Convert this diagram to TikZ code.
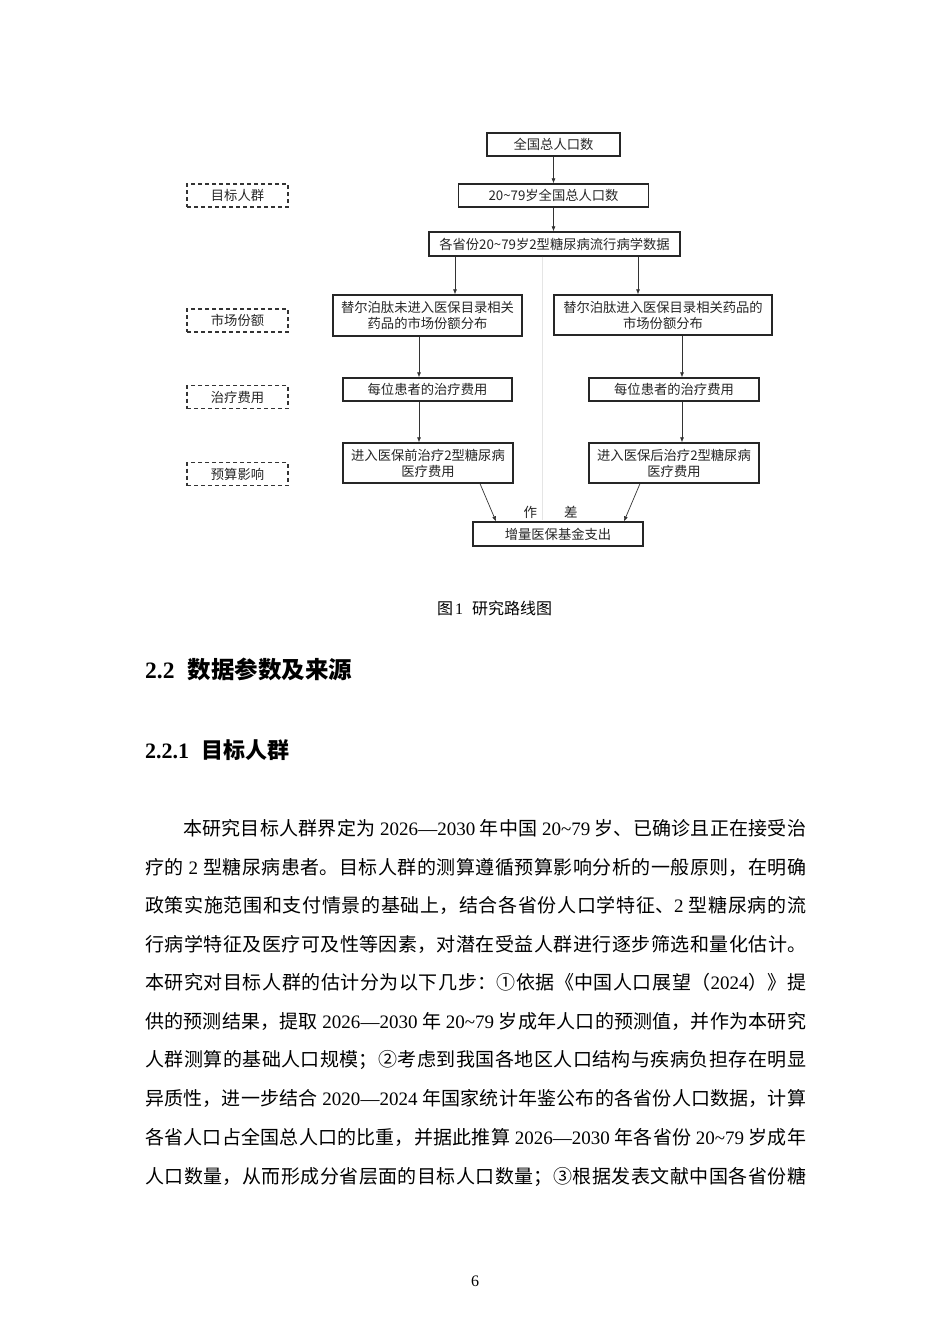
\documentclass[tikz,border=0pt]{standalone}
\usepackage{fontspec}
\setmainfont{Liberation Serif}
\newfontfamily\cjk{Noto Sans CJK SC}
\usetikzlibrary{arrows.meta, positioning}
\XeTeXlinebreaklocale "zh"
\XeTeXlinebreakskip=0pt plus 1.5pt minus 0.4pt
\newcommand{\lat}[1]{{\rmfamily #1}}
\newcommand{\tildech}{\textasciitilde}

\begin{document}
\begin{tikzpicture}[x=1pt, y=-1pt,
	flowbox/.style={rectangle, draw=black!85, line width=1.3pt, inner sep=0pt, align=center, text=black!85, font=\cjk\fontsize{13.3}{16}\selectfont},
	tagbox/.style={rectangle, draw=black!80, line width=1.2pt, dash pattern=on 4pt off 3pt, inner sep=0pt, minimum width=101pt, minimum height=23pt, text=black!85, font=\cjk\fontsize{13.3}{16}\selectfont},
	arr/.style={line width=0.7pt, draw=black!80, -{Latex[length=5pt, width=4pt]}},
	gline/.style={line width=0.8pt, draw=black!10},
	bodyline/.style={anchor=base west, inner sep=0pt, text width=661pt, align=justify, font=\cjk\fontsize{19}{38}\selectfont, execute at begin node={\parindent=0pt\parfillskip=0pt\relax}}
	]
	\path[fill=white] (0,0) rectangle (950,1344);
	\useasboundingbox (0,0) rectangle (950,1344);
	%\draw[gray,step=50] (0,0) grid (950,1344);

	% flow chart
	\node[flowbox, minimum width=133pt, minimum height=23pt] (B1) at (553.5,144.5) {全国总人口数};
	\node[flowbox, minimum width=190pt, minimum height=23pt] (B2) at (553.5,195.5) {20\tildech 79岁全国总人口数};
	\node[flowbox, minimum width=251pt, minimum height=24pt] (B3) at (554.5,244) {各省份20\tildech 79岁2型糖尿病流行病学数据};
	\node[flowbox, minimum width=189pt, minimum height=41pt] (Lm) at (427.5,315.5) {替尔泊肽未进入医保目录相关\\药品的市场份额分布};
	\node[flowbox, minimum width=218pt, minimum height=40pt] (Rm) at (663,315) {替尔泊肽进入医保目录相关药品的\\市场份额分布};
	\node[flowbox, minimum width=169pt, minimum height=23pt] (Lc) at (427.5,389.5) {每位患者的治疗费用};
	\node[flowbox, minimum width=170pt, minimum height=23pt] (Rc) at (674,389.5) {每位患者的治疗费用};
	\node[flowbox, minimum width=170pt, minimum height=40pt] (Lt) at (428,463) {进入医保前治疗2型糖尿病\\医疗费用};
	\node[flowbox, minimum width=170pt, minimum height=40pt] (Rt) at (674,463) {进入医保后治疗2型糖尿病\\医疗费用};
	\node[flowbox, minimum width=170pt, minimum height=24pt] (Bt) at (558,534) {增量医保基金支出};
	\node[text=black!85, font=\cjk\fontsize{13.5}{16}\selectfont, inner sep=0pt] (diff) at (550.5,512) {作\hspace{27pt}差};

	% stage tags
	\node[tagbox] (T1) at (237.5,195.5) {目标人群};
	\node[tagbox] (T2) at (237.5,320.5) {市场份额};
	\node[tagbox] (T3) at (237.5,397) {治疗费用};
	\node[tagbox] (T4) at (237.5,474) {预算影响};

	\coordinate (xl) at (455,0);
	\coordinate (xr) at (638,0);
	\coordinate (xlc) at (419,0);
	\coordinate (xrc) at (682,0);
	\coordinate (gx) at (542,0);

	\draw[gline] (B3.south -| gx) -- ++(0,263);
	\draw[arr] (B1) -- (B2);
	\draw[arr] (B2.south) -- (B2.south |- B3.north);
	\draw[arr] (B3.south -| xl) -- (Lm.north -| xl);
	\draw[arr] (B3.south -| xr) -- (Rm.north -| xr);
	\draw[arr] (Lm.south -| xlc) -- (Lc.north -| xlc);
	\draw[arr] (Lc.south -| xlc) -- (Lt.north -| xlc);
	\draw[arr] (Rm.south -| xrc) -- (Rc.north -| xrc);
	\draw[arr] (Rc.south -| xrc) -- (Rt.north -| xrc);
	\draw[arr] ([xshift=52pt]Lt.south) -- ([xshift=-62pt]Bt.north);
	\draw[arr] ([xshift=-34pt]Rt.south) -- ([xshift=66pt]Bt.north);

	% caption and headings
	\node[anchor=base west, inner sep=0pt, font=\cjk\fontsize{16}{18}\selectfont] (cap) at (437,614) {图\hspace{2pt}\lat{1}\hspace{9pt}研究路线图};
	\node[anchor=base west, inner sep=0pt, font=\cjk\bfseries\fontsize{23.5}{26}\selectfont] (h1) at (145,678) {\lat{2.2}\hspace{13pt}数据参数及来源};
	\node[anchor=base west, inner sep=0pt, font=\cjk\bfseries\fontsize{22}{24}\selectfont] (h2) at (145,758) {\lat{2.2.1}\hspace{12pt}目标人群};

	% body text
	\node[bodyline] (l1) at (145,835) {\hspace*{38pt}本研究目标人群界定为 \lat{2026—2030} 年中国 \lat{20\tildech 79} 岁、已确诊且正在接受治};
	\node[bodyline] (l2) at (145,874) {疗的 \lat{2} 型糖尿病患者。目标人群的测算遵循预算影响分析的一般原则，在明确};
	\node[bodyline] (l3) at (145,912) {政策实施范围和支付情景的基础上，结合各省份人口学特征、\lat{2} 型糖尿病的流};
	\node[bodyline] (l4) at (145,951) {行病学特征及医疗可及性等因素，对潜在受益人群进行逐步筛选和量化估计。};
	\node[bodyline] (l5) at (145,989) {本研究对目标人群的估计分为以下几步：①依据《中国人口展望（\lat{2024}）》提};
	\node[bodyline] (l6) at (145,1028) {供的预测结果，提取 \lat{2026—2030} 年 \lat{20\tildech 79} 岁成年人口的预测值，并作为本研究};
	\node[bodyline] (l7) at (145,1066) {人群测算的基础人口规模；②考虑到我国各地区人口结构与疾病负担存在明显};
	\node[bodyline] (l8) at (145,1105) {异质性，进一步结合 \lat{2020—2024} 年国家统计年鉴公布的各省份人口数据，计算};
	\node[bodyline] (l9) at (145,1144) {各省人口占全国总人口的比重，并据此推算 \lat{2026—2030} 年各省份 \lat{20\tildech 79} 岁成年};
	\node[bodyline] (l10) at (145,1183) {人口数量，从而形成分省层面的目标人口数量；③根据发表文献中国各省份糖};

	\node[anchor=base, inner sep=0pt, font=\fontsize{16}{18}\selectfont] (pg) at (475,1286.5) {6};
\end{tikzpicture}
\end{document}
